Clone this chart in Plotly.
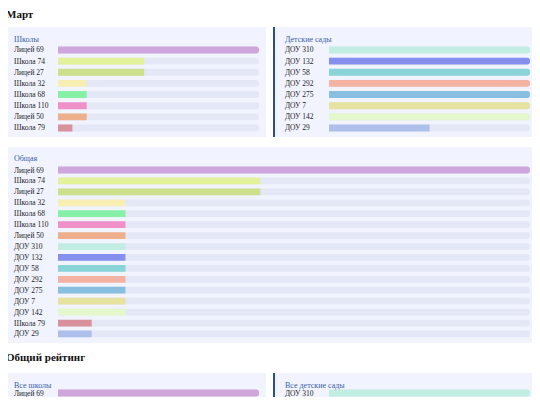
import plotly.graph_objects as go

# page has an 8px body margin, so the figure is drawn 8px in from the page edge
OFF = 8
W, H = 540 - 2 * OFF, 405 - 2 * OFF

schools = ["Лицей 69", "Школа 74", "Лицей 27", "Школа 32", "Школа 68", "Школа 110", "Лицей 50", "Школа 79"]
school_vals = [7, 3, 3, 1, 1, 1, 1, 0.5]
school_colors = ["#cfa6dc", "#e3f29a", "#cce08c", "#f8eeb4", "#86f0a6", "#f090c8", "#eeb08c", "#d9929c"]

dou = ["ДОУ 310", "ДОУ 132", "ДОУ 58", "ДОУ 292", "ДОУ 275", "ДОУ 7", "ДОУ 142", "ДОУ 29"]
dou_vals = [1, 1, 1, 1, 1, 1, 1, 0.5]
dou_colors = ["#c2ede2", "#8590ee", "#88d4d8", "#f4b2a2", "#88bede", "#e6e2a0", "#e4f8cc", "#aec0ea"]

total_order = ["Лицей 69", "Школа 74", "Лицей 27", "Школа 32", "Школа 68", "Школа 110", "Лицей 50",
               "ДОУ 310", "ДОУ 132", "ДОУ 58", "ДОУ 292", "ДОУ 275", "ДОУ 7", "ДОУ 142", "Школа 79", "ДОУ 29"]

val_of = dict(zip(schools + dou, school_vals + dou_vals))
col_of = dict(zip(schools + dou, school_colors + dou_colors))
total_vals = [val_of[n] for n in total_order]
total_colors = [col_of[n] for n in total_order]

FONT = "Liberation Serif"
TRACK = "#e3e7f6"
PANEL = "#f1f4fe"
EDGE = "#2a4d8f"

fig = go.Figure()
layout = {}
shapes, annotations = [], []


def px(p):
    return (p - OFF) / W


def py(p):
    return 1 - (p - OFF) / H


def panel(i, title, names, vals, colors, box, track, row0, pitch, label_x):
    x0, x1, y0, y1 = box
    shapes.append(dict(type="rect", xref="paper", yref="paper", x0=px(x0), x1=px(x1),
                       y0=py(y1), y1=py(y0), fillcolor=PANEL, line_width=0, layer="below"))
    shapes.append(dict(type="line", xref="paper", yref="paper", x0=px(x0), x1=px(x0),
                       y0=py(y1), y1=py(y0), line=dict(color=EDGE, width=2), layer="below"))
    annotations.append(dict(text=title, xref="paper", yref="paper", x=px(label_x), y=py(y0 + 12),
                            xanchor="left", yanchor="middle", showarrow=False,
                            font=dict(family=FONT, size=8, color="#3a5ea8")))
    top = row0 - pitch / 2
    bot = min(H + OFF, row0 + pitch * (len(names) - 0.5))
    lo = (bot - row0) / pitch
    hi = (top - row0) / pitch
    xa, ya = f"x{i}", f"y{i}"
    mx = max(vals)
    fig.add_trace(go.Bar(x=[mx] * len(names), y=names, orientation="h", width=0.62,
                         marker=dict(color=TRACK, line_width=0), xaxis=xa, yaxis=ya, hoverinfo="skip"))
    fig.add_trace(go.Bar(x=vals, y=names, orientation="h", width=0.62,
                         marker=dict(color=colors, line_width=0), xaxis=xa, yaxis=ya, hoverinfo="skip"))
    layout[f"xaxis{i}"] = dict(domain=[px(track[0]), px(track[1])], range=[0, mx], visible=False,
                               fixedrange=True)
    layout[f"yaxis{i}"] = dict(domain=[max(0, py(bot)), py(top)], range=[lo, hi], visible=False,
                               type="category", categoryorder="array", categoryarray=names,
                               fixedrange=True)
    for n in names:
        annotations.append(dict(text=n, xref="paper", yref=ya, x=px(label_x), y=n,
                                xanchor="left", yanchor="middle", showarrow=False,
                                font=dict(family=FONT, size=7.5, color="#222")))


panel(1, "Школы", schools, school_vals, school_colors, (3, 266, 27, 137), (58, 259), 50, 11.14, 12)
panel(2, "Детские сады", dou, dou_vals, dou_colors, (274, 537, 27, 137), (329, 530), 50, 11.14, 283)
panel(3, "Общая", total_order, total_vals, total_colors, (3, 537, 147, 343), (58, 530), 170, 10.93, 12)
panel(4, "Все школы", schools, school_vals, school_colors, (3, 266, 373, 480), (58, 259), 393, 11.14, 12)
panel(5, "Все детские сады", dou, dou_vals, dou_colors, (274, 537, 373, 480), (329, 530), 393, 11.14, 283)

for txt, yy in [("Март", 14), ("Общий рейтинг", 357)]:
    annotations.append(dict(text=f"<b>{txt}</b>", xref="paper", yref="paper", x=px(4), y=py(yy),
                            xanchor="left", yanchor="middle", showarrow=False,
                            font=dict(family=FONT, size=11, color="#111")))

fig.update_layout(**layout)
fig.update_layout(width=W, height=H, margin=dict(l=0, r=0, t=0, b=0), paper_bgcolor="white",
                  plot_bgcolor="rgba(0,0,0,0)", barmode="overlay", barcornerradius="50%",
                  showlegend=False, shapes=shapes, annotations=annotations)
fig.write_html("out.html", config={"displayModeBar": False})
